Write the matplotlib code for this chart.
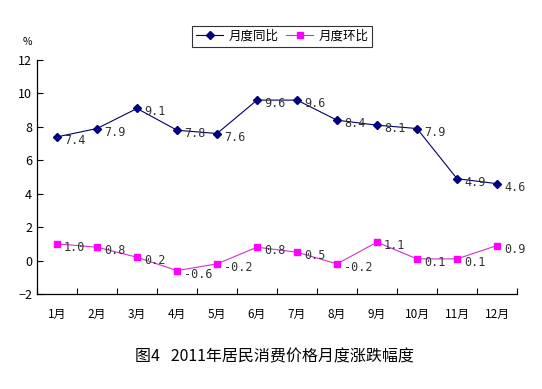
import numpy as np
import matplotlib.pyplot as plt

plt.rcParams['font.family'] = ['Noto Sans CJK SC', 'DejaVu Sans']

# --- DATA ---
months = ['1月', '2月', '3月', '4月', '5月', '6月', '7月', '8月', '9月', '10月', '11月', '12月']
yoy = [7.4, 7.9, 9.1, 7.8, 7.6, 9.6, 9.6, 8.4, 8.1, 7.9, 4.9, 4.6]
mom = [1.0, 0.8, 0.2, -0.6, -0.2, 0.8, 0.5, -0.2, 1.1, 0.1, 0.1, 0.9]
yticks = [-2, 0, 2, 4, 6, 8, 10, 12]

fig = plt.figure(figsize=(5.42, 3.89), dpi=100)
ax = fig.add_axes([37 / 542, 1 - 294 / 389, 480 / 542, 234 / 389])

x = np.arange(len(months))
ax.plot(x, yoy, color='#000066', lw=0.8, marker='D', ms=4,
        markerfacecolor='#000080', markeredgecolor='#000080', label='月度同比')
ax.plot(x, mom, color='#CC33CC', lw=0.8, marker='s', ms=5,
        markerfacecolor='#FF00FF', markeredgecolor='#FF00FF', label='月度环比')

for series in (yoy, mom):
    for xi, v in zip(x, series):
        ax.annotate(f'{v:.1f}', (xi, v), xytext=(5, -2.5), textcoords='offset points',
                    fontsize=8.5, va='center', ha='left', color='#333333',
                    family='DejaVu Sans Mono')

ax.set_xlim(-0.5, len(months) - 0.5)
ax.set_ylim(-2, 12)
ax.set_yticks(yticks)
ax.set_xticks(np.arange(len(months) + 1) - 0.5)
ax.set_xticklabels([])
ax.set_xticks(x, minor=True)
ax.set_xticklabels(months, minor=True)
ax.tick_params(axis='x', which='major', direction='in', length=4, width=0.8)
ax.tick_params(axis='x', which='minor', length=0, pad=10, labelsize=8.5)
ax.tick_params(axis='y', direction='in', length=4, width=0.8, labelsize=9)

for s in ['top', 'right']:
    ax.spines[s].set_visible(False)
for s in ['left', 'bottom']:
    ax.spines[s].set_linewidth(0.9)

fig.text(27 / 542, 1 - 42 / 389, '%', fontsize=7.5, ha='center', va='center')

leg = ax.legend(loc='upper left', bbox_to_anchor=(155 / 480, 1 + 34 / 234), ncol=2,
                frameon=True, fancybox=False, fontsize=9, handlelength=2.2,
                borderpad=0.3, columnspacing=0.6, handletextpad=0.4, borderaxespad=0)
leg.get_frame().set_edgecolor('black')
leg.get_frame().set_linewidth(0.8)

fig.text(274 / 542, 1 - 357 / 389, '图4   2011年居民消费价格月度涨跌幅度', fontsize=11.5,
         ha='center', va='center')

fig.savefig('out.png', dpi=100)
